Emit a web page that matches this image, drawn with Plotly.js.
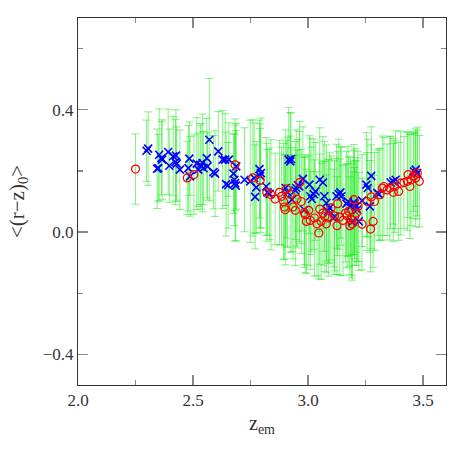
<!DOCTYPE html>
<html>
<head>
<meta charset="utf-8">
<script src="https://cdn.plot.ly/plotly-3.0.1.min.js"></script>
<style>
  html, body { margin: 0; padding: 0; background: #fff; }
  #chart { width: 463px; height: 463px; }
</style>
</head>
<body>
<div id="chart"></div>
<script>
// blue crosses
const blueZ = [2.298,2.305,2.344,2.349,2.353,2.363,2.366,2.392,2.397,2.414,
  2.426,2.424,2.429,2.443,2.484,2.480,2.487,2.516,2.523,2.531,
  2.535,2.542,2.545,2.560,2.563,2.571,2.589,2.596,2.610,2.629,
  2.640,2.656,2.644,2.653,2.676,2.680,2.683,2.686,2.688,2.724,
  2.749,2.766,2.770,2.775,2.789,2.795,2.792,2.818,2.824,2.833,
  2.903,2.916,2.923,2.926,2.911,2.930,2.945,2.949,2.956,2.962,
  2.978,2.984,3.006,3.010,3.017,3.025,3.032,3.051,3.065,3.071,
  3.080,3.087,3.094,3.109,3.116,3.124,3.134,3.141,3.145,3.167,
  3.174,3.185,3.192,3.199,3.202,3.206,3.214,3.221,3.235,3.254,
  3.260,3.269,3.275,3.301,3.308,3.359,3.371,3.381,3.461,3.468,3.475];
const blueColor = [0.266,0.273,0.207,0.209,0.253,0.242,0.237,0.262,0.217,0.248,
  0.250,0.229,0.224,0.204,0.240,0.209,0.182,0.224,0.204,0.220,
  0.215,0.226,0.209,0.242,0.215,0.302,0.196,0.191,0.264,0.237,
  0.237,0.237,0.157,0.153,0.191,0.171,0.160,0.152,0.215,0.171,
  0.166,0.177,0.115,0.146,0.206,0.193,0.184,0.149,0.130,0.125,
  0.144,0.237,0.231,0.239,0.130,0.106,0.136,0.144,0.153,0.149,
  0.174,0.073,0.155,0.117,0.108,0.124,0.133,0.171,0.162,0.117,
  0.095,0.068,0.079,0.046,0.051,0.117,0.124,0.130,0.117,0.093,
  0.100,0.084,0.033,0.097,0.093,0.084,0.073,0.035,0.103,0.155,
  0.144,0.084,0.184,0.128,0.124,0.162,0.166,0.171,0.198,0.204,0.193];
const blueErr = [0.10,0.12,0.13,0.11,0.15,0.12,0.13,0.14,0.12,0.13,
  0.15,0.14,0.12,0.13,0.12,0.14,0.13,0.15,0.12,0.13,
  0.14,0.16,0.12,0.13,0.11,0.20,0.12,0.14,0.13,0.16,
  0.15,0.12,0.17,0.14,0.13,0.15,0.19,0.18,0.14,0.17,
  0.20,0.18,0.17,0.15,0.16,0.18,0.17,0.16,0.14,0.15,
  0.19,0.17,0.16,0.15,0.18,0.17,0.16,0.19,0.15,0.18,
  0.17,0.18,0.16,0.19,0.17,0.18,0.16,0.17,0.15,0.18,
  0.19,0.17,0.18,0.16,0.19,0.17,0.18,0.15,0.16,0.17,
  0.18,0.16,0.19,0.17,0.18,0.15,0.17,0.16,0.15,0.17,
  0.16,0.15,0.16,0.14,0.15,0.15,0.14,0.16,0.13,0.12,0.14];

// red circles
const redZ = [2.250,2.475,2.504,2.683,2.760,2.792,2.821,2.839,2.857,2.876,
  2.885,2.894,2.897,2.901,2.906,2.923,2.935,2.945,2.952,2.964,
  2.971,2.984,2.988,2.993,3.003,3.010,3.028,3.039,3.047,3.051,
  3.057,3.065,3.073,3.080,3.090,3.100,3.115,3.126,3.129,3.138,
  3.152,3.163,3.170,3.177,3.182,3.188,3.192,3.199,3.203,3.211,
  3.217,3.235,3.257,3.272,3.275,3.283,3.289,3.313,3.323,3.330,
  3.344,3.356,3.371,3.377,3.394,3.403,3.417,3.432,3.435,3.443,
  3.448,3.458,3.468,3.475,3.484];
const redColor = [0.206,0.177,0.188,0.220,0.177,0.169,0.130,0.122,0.108,0.130,
  0.117,0.100,0.082,0.073,0.141,0.124,0.082,0.071,0.108,0.162,
  0.100,0.064,0.057,0.035,0.071,0.038,0.046,0.027,-0.003,0.075,
  0.035,0.062,0.051,0.027,0.046,0.079,0.053,0.021,0.093,0.049,
  0.038,0.062,0.053,0.068,0.021,0.040,0.027,0.106,0.051,0.062,
  0.084,0.026,0.100,0.010,0.115,0.035,0.100,0.122,0.144,0.149,
  0.138,0.144,0.130,0.149,0.133,0.160,0.162,0.166,0.188,0.149,
  0.171,0.184,0.177,0.193,0.166];
const redErr = [0.115,0.12,0.13,0.15,0.19,0.17,0.16,0.18,0.15,0.17,
  0.16,0.19,0.17,0.18,0.16,0.19,0.17,0.18,0.16,0.20,
  0.17,0.18,0.19,0.17,0.18,0.16,0.19,0.17,0.15,0.18,
  0.19,0.17,0.18,0.16,0.19,0.17,0.18,0.16,0.17,0.19,
  0.18,0.16,0.17,0.18,0.16,0.19,0.17,0.18,0.16,0.17,
  0.18,0.15,0.16,0.14,0.17,0.15,0.16,0.15,0.17,0.16,
  0.15,0.17,0.16,0.15,0.16,0.17,0.15,0.16,0.14,0.17,
  0.15,0.14,0.16,0.15,0.15];

const font = 'Liberation Serif, DejaVu Serif, serif';

// error bars go in their own traces so markers sit on top of all of them
function errTrace(x, y, e) {
    return {
        x: x, y: y, type: 'scatter', mode: 'markers',
        marker: { size: 1, color: 'rgba(0,0,0,0)' },
        error_y: { type: 'data', array: e, visible: true,
                   color: 'rgba(0,235,0,0.5)', thickness: 1, width: 4 },
        hoverinfo: 'skip', showlegend: false
    };
}

const data = [
    errTrace(blueZ, blueColor, blueErr),
    errTrace(redZ, redColor, redErr),
    {
        x: blueZ, y: blueColor, type: 'scatter', mode: 'markers',
        marker: { symbol: 'x-thin', size: 8, line: { color: '#0000ff', width: 1.6 } },
        showlegend: false
    },
    {
        x: redZ, y: redColor, type: 'scatter', mode: 'markers',
        marker: { symbol: 'circle-open', size: 8, color: '#ff0000', line: { color: '#ff0000', width: 1.2 } },
        showlegend: false
    }
];

const axisCommon = {
    showgrid: false, zeroline: false,
    showline: true, linecolor: '#333', linewidth: 1, mirror: 'allticks',
    ticks: 'inside', ticklen: 10, tickwidth: 1.2, tickcolor: '#888',
    tickfont: { family: font, size: 17, color: '#333' },
    minor: { ticks: 'inside', ticklen: 5, tickwidth: 1.2, tickcolor: '#888' }
};

const layout = {
    width: 463, height: 463,
    margin: { l: 78, r: 17, t: 18, b: 78 },
    paper_bgcolor: '#fff', plot_bgcolor: '#fff',
    xaxis: Object.assign({}, axisCommon, {
        range: [2.0, 3.6], tickvals: [2.0, 2.5, 3.0, 3.5], ticktext: ['2.0', '2.5', '3.0', '3.5'],
        minor: Object.assign({}, axisCommon.minor, { tickvals: [2.25, 2.75, 3.25] }),
        title: { text: 'z<sub>em</sub>', font: { family: font, size: 20, color: '#333' }, standoff: 6 }
    }),
    yaxis: Object.assign({}, axisCommon, {
        range: [-0.5, 0.7], tickvals: [-0.4, 0.0, 0.4], ticktext: ['\u22120.4', '0.0', '0.4'],
        minor: Object.assign({}, axisCommon.minor, { tickvals: [-0.2, 0.2, 0.6] }),
        title: { text: '<(r\u2212z)<sub>0</sub>>', font: { family: font, size: 21, color: '#333' }, standoff: 12 }
    })
};

Plotly.newPlot('chart', data, layout, { staticPlot: true });
</script>
</body>
</html>
